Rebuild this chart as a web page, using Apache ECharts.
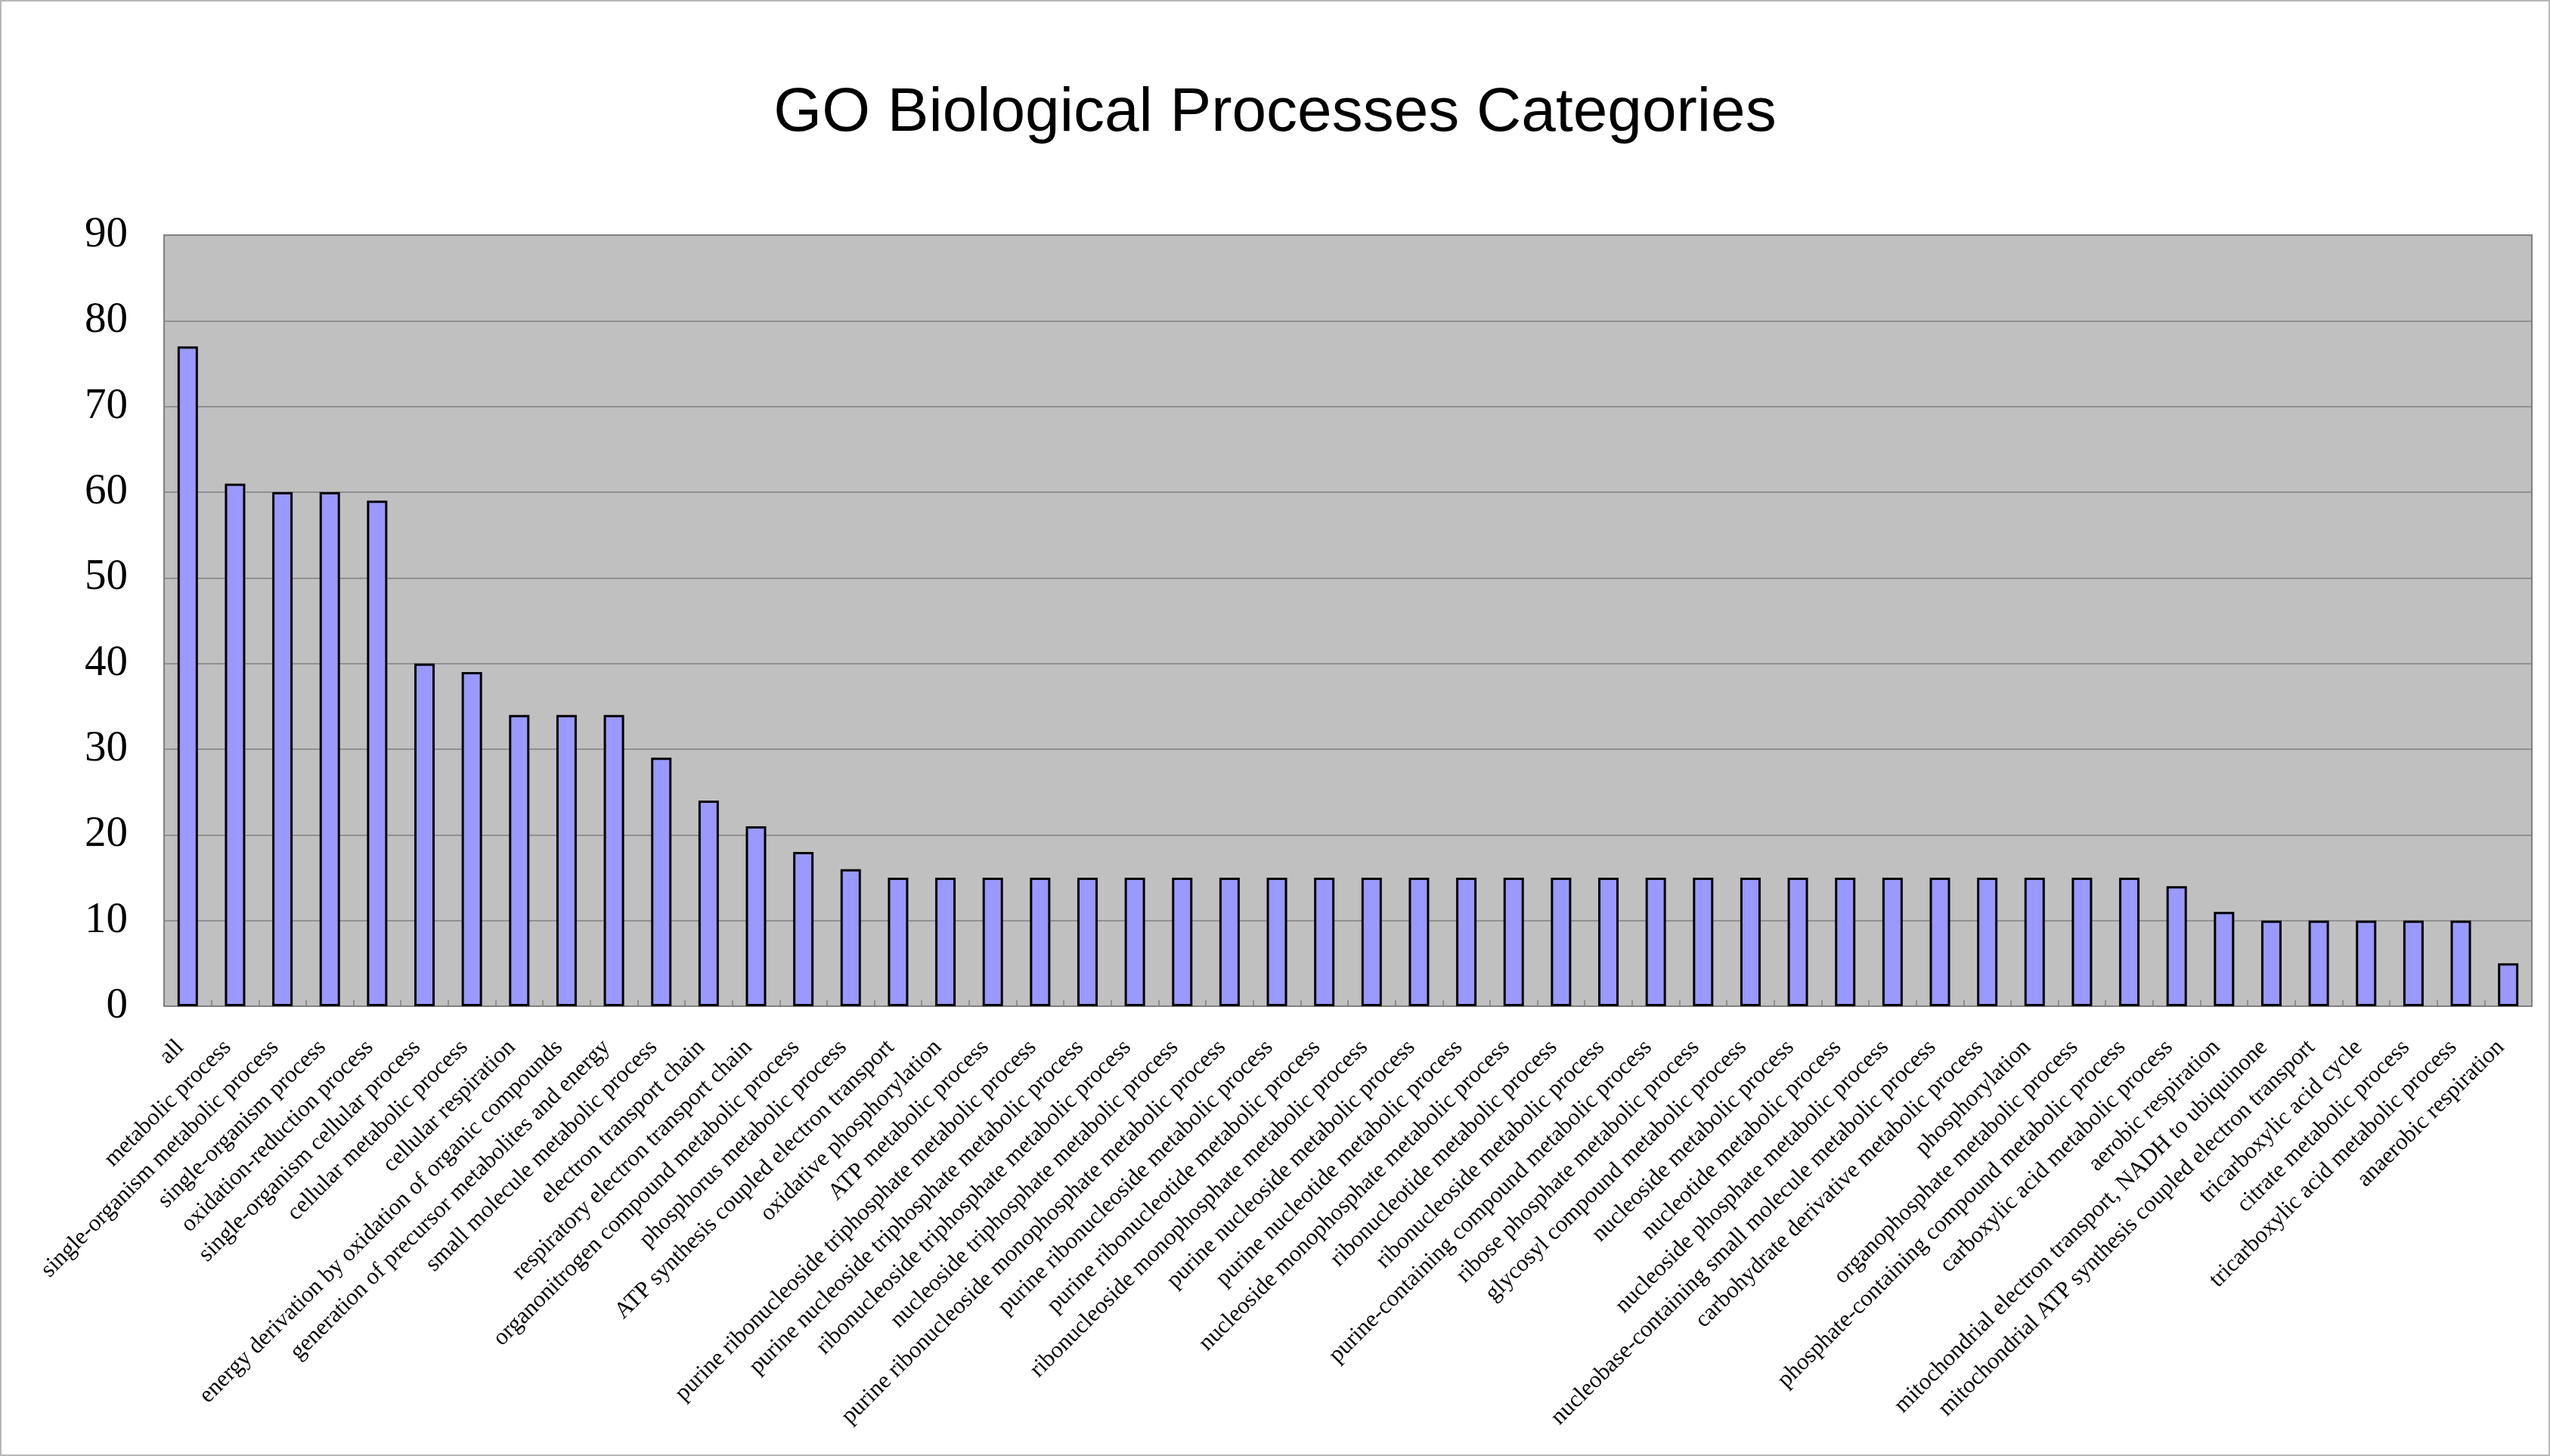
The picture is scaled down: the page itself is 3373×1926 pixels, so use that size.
<!DOCTYPE html>
<html>
<head>
<meta charset="utf-8">
<title>GO Biological Processes Categories</title>
<script src="https://cdn.jsdelivr.net/npm/echarts@6/dist/echarts.min.js"></script>
<style>
  html, body { margin: 0; padding: 0; background: #fff; }
  #Bar { width: 3373px; height: 1926px; box-sizing: border-box; border: 2px solid #b8b8b8; }
</style>
</head>
<body>
<div id="Bar"></div>
<script>
// categories (x axis)
var categories = [
  "all",
  "metabolic process",
  "single-organism metabolic process",
  "single-organism process",
  "oxidation-reduction process",
  "single-organism cellular process",
  "cellular metabolic process",
  "cellular respiration",
  "energy derivation by oxidation of organic compounds",
  "generation of precursor metabolites and energy",
  "small molecule metabolic process",
  "electron transport chain",
  "respiratory electron transport chain",
  "organonitrogen compound metabolic process",
  "phosphorus metabolic process",
  "ATP synthesis coupled electron transport",
  "oxidative phosphorylation",
  "ATP metabolic process",
  "purine ribonucleoside triphosphate metabolic process",
  "purine nucleoside triphosphate metabolic process",
  "ribonucleoside triphosphate metabolic process",
  "nucleoside triphosphate metabolic process",
  "purine ribonucleoside monophosphate metabolic process",
  "purine ribonucleoside metabolic process",
  "purine ribonucleotide metabolic process",
  "ribonucleoside monophosphate metabolic process",
  "purine nucleoside metabolic process",
  "purine nucleotide metabolic process",
  "nucleoside monophosphate metabolic process",
  "ribonucleotide metabolic process",
  "ribonucleoside metabolic process",
  "purine-containing compound metabolic process",
  "ribose phosphate metabolic process",
  "glycosyl compound metabolic process",
  "nucleoside metabolic process",
  "nucleotide metabolic process",
  "nucleoside phosphate metabolic process",
  "nucleobase-containing small molecule metabolic process",
  "carbohydrate derivative metabolic process",
  "phosphorylation",
  "organophosphate metabolic process",
  "phosphate-containing compound metabolic process",
  "carboxylic acid metabolic process",
  "aerobic respiration",
  "mitochondrial electron transport, NADH to ubiquinone",
  "mitochondrial ATP synthesis coupled electron transport",
  "tricarboxylic acid cycle",
  "citrate metabolic process",
  "tricarboxylic acid metabolic process",
  "anaerobic respiration"
]

// gene counts per category
var counts = [
  77, 61, 60, 60, 59, 40, 39, 34, 34, 34,
  29, 24, 21, 18, 16, 15, 15, 15, 15, 15,
  15, 15, 15, 15, 15, 15, 15, 15, 15, 15,
  15, 15, 15, 15, 15, 15, 15, 15, 15, 15,
  15, 15, 14, 11, 10, 10, 10, 10, 10, 5
]

// y axis
var yMin = 0
var yMax = 90
var yStep = 10

var Echarts = echarts.init(document.getElementById("Bar"))
Echarts.setOption({
  animation: false,
  backgroundColor: "#ffffff",
  //标题
  title: {
    text: "GO Biological Processes Categories",
    left: "center",
    top: 102,
    textStyle: {
      fontFamily: "Liberation Sans",
      fontSize: 82,
      fontWeight: "normal",
      color: "#000"
    }
  },
  //绘图区
  grid: {
    left: 215,
    right: 22,
    top: 309,
    bottom: 593,
    show: true,
    backgroundColor: "#c0c0c0",
    borderColor: "#808080",
    borderWidth: 2
  },
  xAxis: {
    type: "category",
    data: categories,
    boundaryGap: true,
    axisLine: { lineStyle: { color: "#808080", width: 2 } },
    axisTick: {
      show: true,
      inside: true,
      length: 8,
      lineStyle: { color: "#808080", width: 1.5 }
    },
    axisLabel: {
      interval: 0,
      rotate: 45,
      margin: 40,
      padding: [0, 14, 0, 0],
      fontFamily: "Liberation Serif",
      fontSize: 31,
      color: "#000"
    }
  },
  yAxis: {
    type: "value",
    min: yMin,
    max: yMax,
    interval: yStep,
    axisLine: { show: true, lineStyle: { color: "#808080", width: 2 } },
    axisTick: { show: false },
    splitLine: { lineStyle: { color: "#808080", width: 1.5 } },
    axisLabel: {
      margin: 48,
      fontFamily: "Liberation Serif",
      fontSize: 57,
      color: "#000"
    }
  },
  series: [
    {
      type: "bar",
      data: counts,
      barWidth: 27,
      itemStyle: {
        color: "#9999ff",
        borderColor: "#000",
        borderWidth: 3
      }
    }
  ]
})
</script>
</body>
</html>
